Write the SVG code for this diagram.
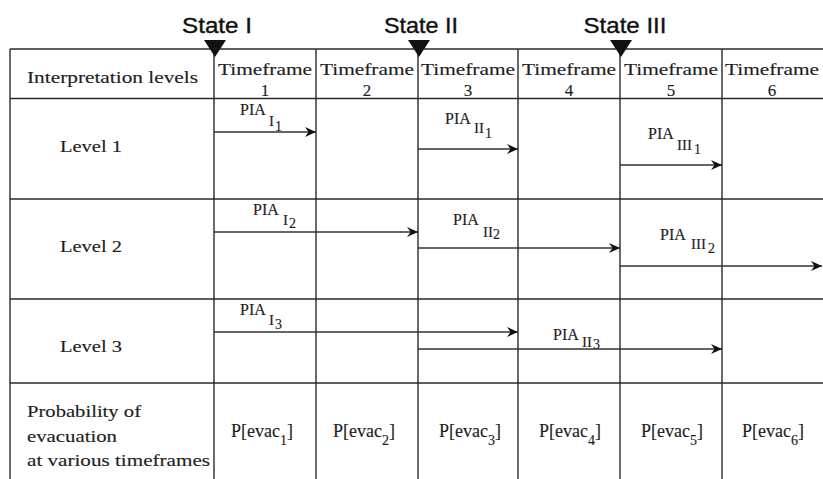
<svg xmlns="http://www.w3.org/2000/svg" width="823" height="479" viewBox="0 0 823 479">
<style>
.grid line{stroke:#2a2a2a;stroke-width:1.4}
.t,.tf,.pia,.ev{font-family:"Liberation Serif","Times New Roman",serif;fill:#1e1e1e;stroke:#1e1e1e;stroke-width:0.15}
.t{font-size:17px}
.tf{font-size:17px;text-anchor:middle}
.st{font-family:"Liberation Sans",Arial,sans-serif;font-size:22px;fill:#111;stroke:#111;stroke-width:0.35;text-anchor:middle}
.pia{font-size:16px}
.rom{font-size:15px}
.dig{font-size:14px}
.arr line{stroke:#333;stroke-width:1.5;marker-end:url(#ah)}
.ev{font-size:18px;text-anchor:middle}
</style>
<defs>
<marker id="ah" markerUnits="userSpaceOnUse" markerWidth="12" markerHeight="10" refX="11" refY="5" orient="auto">
<path d="M0,0 L11,5 L0,10 L3.5,5 Z" fill="#111"/>
</marker>
</defs>
<rect width="823" height="479" fill="#fff"/>
<g id="grid" class="grid">
<line x1="10" y1="49" x2="823" y2="49"/>
<line x1="10" y1="98.5" x2="823" y2="98.5"/>
<line x1="10" y1="199" x2="823" y2="199"/>
<line x1="10" y1="299" x2="823" y2="299"/>
<line x1="10" y1="383" x2="823" y2="383"/>
<line x1="10" y1="49" x2="10" y2="479"/>
<line x1="214" y1="49" x2="214" y2="479"/>
<line x1="316" y1="49" x2="316" y2="479"/>
<line x1="418" y1="49" x2="418" y2="479"/>
<line x1="518" y1="49" x2="518" y2="479"/>
<line x1="620" y1="49" x2="620" y2="479"/>
<line x1="722" y1="49" x2="722" y2="479"/>
</g>
<g id="states">
<g id="state1"><text class="st" x="217" y="33" textLength="70" lengthAdjust="spacingAndGlyphs">State I</text><path d="M204,40 L226,40 L215,57 Z" fill="#111"/></g>
<g id="state2"><text class="st" x="421" y="33" textLength="74" lengthAdjust="spacingAndGlyphs">State II</text><path d="M408,40 L430,40 L419,57 Z" fill="#111"/></g>
<g id="state3"><text class="st" x="625" y="33" textLength="83" lengthAdjust="spacingAndGlyphs">State III</text><path d="M610,40 L632,40 L621,57 Z" fill="#111"/></g>
</g>
<g id="header">
<text class="t" x="27" y="83" textLength="171" lengthAdjust="spacingAndGlyphs">Interpretation levels</text>
<g id="tf1"><text class="tf" x="265" y="75" textLength="94" lengthAdjust="spacingAndGlyphs">Timeframe</text><text class="tf" x="265" y="96">1</text></g>
<g id="tf2"><text class="tf" x="367" y="75" textLength="94" lengthAdjust="spacingAndGlyphs">Timeframe</text><text class="tf" x="367" y="96">2</text></g>
<g id="tf3"><text class="tf" x="468" y="75" textLength="94" lengthAdjust="spacingAndGlyphs">Timeframe</text><text class="tf" x="468" y="96">3</text></g>
<g id="tf4"><text class="tf" x="569" y="75" textLength="94" lengthAdjust="spacingAndGlyphs">Timeframe</text><text class="tf" x="569" y="96">4</text></g>
<g id="tf5"><text class="tf" x="671" y="75" textLength="94" lengthAdjust="spacingAndGlyphs">Timeframe</text><text class="tf" x="671" y="96">5</text></g>
<g id="tf6"><text class="tf" x="772" y="75" textLength="94" lengthAdjust="spacingAndGlyphs">Timeframe</text><text class="tf" x="772" y="96">6</text></g>
</g>
<g id="levels">
<text id="level1" class="t" x="60" y="152" textLength="62" lengthAdjust="spacingAndGlyphs">Level 1</text>
<text id="level2" class="t" x="60" y="252" textLength="62" lengthAdjust="spacingAndGlyphs">Level 2</text>
<text id="level3" class="t" x="60" y="352" textLength="62" lengthAdjust="spacingAndGlyphs">Level 3</text>
<g id="prob">
<text class="t" x="27" y="417" textLength="114" lengthAdjust="spacingAndGlyphs">Probability of</text>
<text class="t" x="27" y="442" textLength="90" lengthAdjust="spacingAndGlyphs">evacuation</text>
<text class="t" x="27" y="466" textLength="183" lengthAdjust="spacingAndGlyphs">at various timeframes</text>
</g>
</g>
<g id="connectors" class="arr">
<line x1="214" y1="132" x2="316" y2="132"/>
<line x1="418" y1="149" x2="518" y2="149"/>
<line x1="620" y1="165" x2="722" y2="165"/>
<line x1="214" y1="232" x2="418" y2="232"/>
<line x1="418" y1="248" x2="620" y2="248"/>
<line x1="620" y1="266" x2="822" y2="266"/>
<line x1="214" y1="332" x2="518" y2="332"/>
<line x1="418" y1="349" x2="722" y2="349"/>
</g>
<g id="pia-labels" class="pia">
<text><tspan x="240" y="115">PIA</tspan><tspan class="rom" x="269" y="126">I</tspan><tspan class="dig" x="275" y="131">1</tspan></text>
<text><tspan x="445" y="124">PIA</tspan><tspan class="rom" x="474" y="133">II</tspan><tspan class="dig" x="485" y="138">1</tspan></text>
<text><tspan x="648" y="139">PIA</tspan><tspan class="rom" x="677" y="150">III</tspan><tspan class="dig" x="694" y="154">1</tspan></text>
<text><tspan x="253" y="215">PIA</tspan><tspan class="rom" x="283" y="225">I</tspan><tspan class="dig" x="289" y="228">2</tspan></text>
<text><tspan x="453" y="225">PIA</tspan><tspan class="rom" x="483" y="237">II</tspan><tspan class="dig" x="493" y="239">2</tspan></text>
<text><tspan x="660" y="240">PIA</tspan><tspan class="rom" x="691" y="249">III</tspan><tspan class="dig" x="708" y="253">2</tspan></text>
<text><tspan x="240" y="315">PIA</tspan><tspan class="rom" x="269" y="325">I</tspan><tspan class="dig" x="275" y="329">3</tspan></text>
<text><tspan x="553" y="340">PIA</tspan><tspan class="rom" x="582" y="347">II</tspan><tspan class="dig" x="593" y="349">3</tspan></text>
</g>
<g id="evac">
<text class="ev" x="262" y="437">P[evac<tspan class="dig" dy="8">1</tspan><tspan dy="-8">]</tspan></text>
<text class="ev" x="364" y="437">P[evac<tspan class="dig" dy="8">2</tspan><tspan dy="-8">]</tspan></text>
<text class="ev" x="470" y="437">P[evac<tspan class="dig" dy="8">3</tspan><tspan dy="-8">]</tspan></text>
<text class="ev" x="570" y="437">P[evac<tspan class="dig" dy="8">4</tspan><tspan dy="-8">]</tspan></text>
<text class="ev" x="672" y="437">P[evac<tspan class="dig" dy="8">5</tspan><tspan dy="-8">]</tspan></text>
<text class="ev" x="773" y="437">P[evac<tspan class="dig" dy="8">6</tspan><tspan dy="-8">]</tspan></text>
</g>
</svg>
